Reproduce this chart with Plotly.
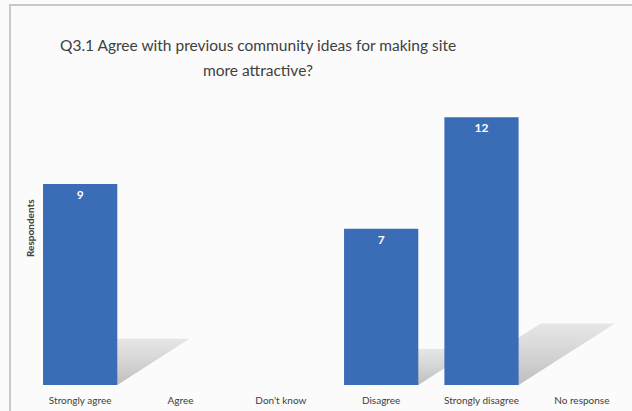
import plotly.graph_objects as go

categories = ["Strongly agree", "Agree", "Don't know", "Disagree", "Strongly disagree", "No response"]
values = [9, 0, 0, 7, 12, 0]
title_lines = ["Q3.1 Agree with previous community ideas for making site", "more attractive?"]
y_title = "Respondents"

W, H = 632, 411
L, R, T, B = 30, 0, 106, 26
BAR_W = 0.74
BAR_COLOR = "#3b6db6"
N = len(categories)
XR = [-0.5, N - 0.5]
YR = [0, 12.5]
PW, PH = W - L - R, H - T - B


def px(x):
    return (x - L) / PW


def py(y):
    return (H - B - y) / PH


fig = go.Figure()

# decorative shadows derived from the bar values (drawn on the base axes, beneath the bars)
for i, v in enumerate(values):
    if v <= 0:
        continue
    dx = 0.08 * v
    dy = 0.23 * v
    x0, x1 = i - BAR_W / 2, i + BAR_W / 2
    fig.add_trace(go.Scatter(
        x=[x0, x1, x1 + dx, x0 + dx, x0],
        y=[0, 0, dy, dy, 0],
        mode="lines", line=dict(width=0),
        fill="toself",
        fillgradient=dict(type="vertical",
                          colorscale=[[0, "rgba(140,140,140,0.55)"], [1, "rgba(180,180,180,0.3)"]]),
        hoverinfo="skip", showlegend=False,
        xaxis="x", yaxis="y",
    ))

fig.add_trace(go.Bar(
    x=list(range(N)), y=values, width=BAR_W,
    marker=dict(color=BAR_COLOR, line=dict(width=0)),
    text=[str(v) if v else "" for v in values],
    textposition="inside", insidetextanchor="end",
    textfont=dict(color="white", size=12, family="Lato"),
    texttemplate="<b>%{text}</b>",
    showlegend=False,
    xaxis="x2", yaxis="y2",
))

axis_common = dict(showgrid=False, zeroline=False, showline=False, automargin=False)

annotations = [dict(text="<b>" + y_title + "</b>", xref="paper", yref="paper",
                    x=px(30), y=py(228), textangle=-90, showarrow=False,
                    xanchor="center", yanchor="middle",
                    font=dict(size=10, color="#404040"))]
for line, yc in zip(title_lines, [45, 70]):
    annotations.append(dict(text=line, xref="paper", yref="paper", x=px(258), y=py(yc),
                            xanchor="center", yanchor="middle", showarrow=False,
                            font=dict(family="Lato", size=15.5, color="#404040")))

fig.update_layout(
    width=W, height=H,
    margin=dict(l=L, r=R, t=T, b=B, autoexpand=False),
    paper_bgcolor="#fbfbfb",
    plot_bgcolor="rgba(0,0,0,0)",
    font=dict(family="Lato", color="#404040"),
    xaxis=dict(range=XR, tickvals=list(range(N)), ticktext=categories, ticks="",
               ticklabelstandoff=8,
               tickfont=dict(size=10, color="#404040"), **axis_common),
    yaxis=dict(range=YR, showticklabels=False, **axis_common),
    xaxis2=dict(range=XR, overlaying="x", showticklabels=False, **axis_common),
    yaxis2=dict(range=YR, overlaying="y", showticklabels=False, **axis_common),
    uniformtext=dict(minsize=8, mode="show"),
    annotations=annotations,
    shapes=[dict(type="rect", xref="paper", yref="paper",
                 x0=px(10), x1=px(W + 10), y0=py(H + 10), y1=py(5),
                 line=dict(color="#c8c8c8", width=2), fillcolor="rgba(0,0,0,0)", layer="below")],
)

fig.write_html("out.html", config={"displayModeBar": False},
               post_script="document.body.style.margin='0';document.body.style.overflow='hidden';")
